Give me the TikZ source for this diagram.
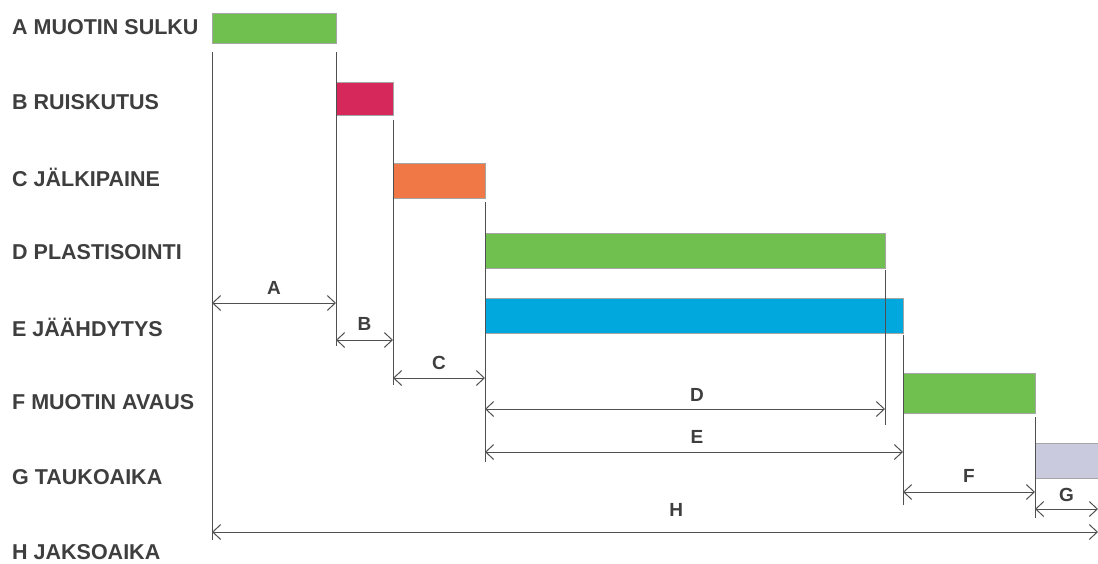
\documentclass[tikz,border=0pt]{standalone}
\usepackage{fontspec}
\setmainfont{Liberation Sans}
\usetikzlibrary{arrows.meta}
\definecolor{txt}{RGB}{62,62,62}
\definecolor{ln}{RGB}{80,80,80}
\definecolor{grn}{RGB}{112,192,80}
\definecolor{red}{RGB}{214,40,90}
\definecolor{org}{RGB}{240,120,70}
\definecolor{blu}{RGB}{0,168,222}
\definecolor{lav}{RGB}{202,202,222}
\begin{document}
\begin{tikzpicture}[x=1pt,y=-1pt,
  bar/.style={draw=black!35, line width=0.4pt, inner sep=0pt, anchor=north west},
  row/.style={font=\bfseries\fontsize{21.5}{21.5}\selectfont, text=txt, anchor=west, inner sep=0pt},
  guide/.style={draw=ln, line width=1pt},
  dim/.style={draw=ln, line width=1pt, {Straight Barb[length=8pt,width=15pt]}-{Straight Barb[length=8pt,width=15pt]}},
  dlab/.style={font=\bfseries\fontsize{19}{19}\selectfont, text=txt, inner sep=0pt}]
\useasboundingbox (0,0) rectangle (1098,563);
% row labels
\node[row] (lA) at (12,27) {A MUOTIN SULKU};
\node[row] (lB) at (12,102) {B RUISKUTUS};
\node[row] (lC) at (12,177) {C JÄLKIPAINE};
\node[row] (lD) at (12,252) {D PLASTISOINTI};
\node[row] (lE) at (12,327) {E JÄÄHDYTYS};
\node[row] (lF) at (12,402) {F MUOTIN AVAUS};
\node[row] (lG) at (12,477) {G TAUKOAIKA};
\node[row] (lH) at (12,552) {H JAKSOAIKA};
% bars
\node[bar, fill=grn, minimum width=124pt, minimum height=30pt] (bA) at (212,13) {};
\node[bar, fill=red, minimum width=57pt, minimum height=33pt] (bB) at (336,82) {};
\node[bar, fill=org, minimum width=92pt, minimum height=35pt] (bC) at (393,163) {};
\node[bar, fill=grn, minimum width=400pt, minimum height=35pt] (bD) at (485,233) {};
\node[bar, fill=blu, minimum width=418pt, minimum height=35pt] (bE) at (485,298) {};
\node[bar, fill=grn, minimum width=132pt, minimum height=40pt] (bF) at (903,373) {};
\node[bar, fill=lav, minimum width=63pt, minimum height=35pt] (bG) at (1035,443) {};
% guide line ends
\coordinate (g1t) at (212,52);  \coordinate (g1b) at (212,540);
\coordinate (g2t) at (336,52);  \coordinate (g2b) at (336,346);
\coordinate (g3t) at (393,120); \coordinate (g3b) at (393,385);
\coordinate (g4t) at (485,202); \coordinate (g4b) at (485,462);
\coordinate (g5t) at (885,270); \coordinate (g5b) at (885,425);
\coordinate (g6t) at (903,335); \coordinate (g6b) at (903,505);
\coordinate (g7t) at (1035,417); \coordinate (g7b) at (1035,518);
\foreach \i in {1,...,7} {\draw[guide] (g\i t) -- (g\i b);}
% dimension arrow ends
\coordinate (a1) at (212,303); \coordinate (a2) at (336,303);
\coordinate (b1) at (336,340); \coordinate (b2) at (393,340);
\coordinate (c1) at (393,378); \coordinate (c2) at (485,378);
\coordinate (d1) at (485,409); \coordinate (d2) at (885,409);
\coordinate (e1) at (485,452); \coordinate (e2) at (903,452);
\coordinate (f1) at (903,492); \coordinate (f2) at (1035,492);
\coordinate (h1) at (1035,509); \coordinate (h2) at (1098,509);
\coordinate (k1) at (212,532); \coordinate (k2) at (1098,532);
\draw[dim] (a1) -- (a2) node[dlab, midway, above=8pt] (tA) {A};
\draw[dim] (b1) -- (b2) node[dlab, midway, above=9pt] (tB) {B};
\draw[dim] (c1) -- (c2) node[dlab, midway, above=8pt] (tC) {C};
\draw[dim] (d1) -- (d2) node[dlab, pos=0.53, above=7pt] (tD) {D};
\draw[dim] (e1) -- (e2) node[dlab, pos=0.507, above=8pt] (tE) {E};
\draw[dim] (f1) -- (f2) node[dlab, midway, above=9pt] (tF) {F};
\draw[dim] (h1) -- (h2) node[dlab, midway, above=7pt] (tG) {G};
\draw[dim] (k1) -- (k2) node[dlab, pos=0.524, above=15pt] (tH) {H};
\end{tikzpicture}
\end{document}
